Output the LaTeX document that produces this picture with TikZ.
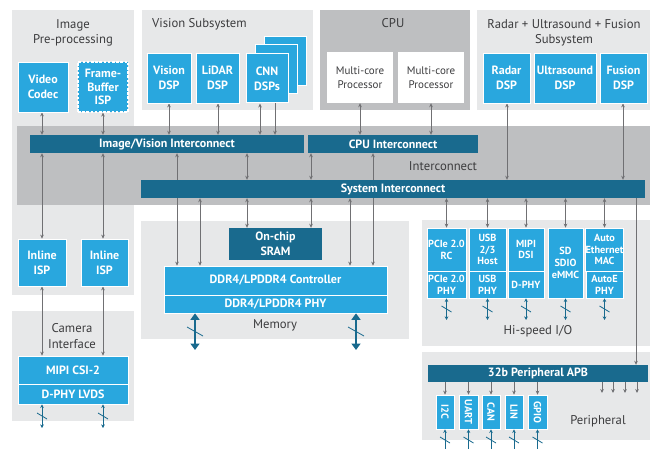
\documentclass[tikz,border=0pt]{standalone}
\usepackage{fontspec}
\setmainfont{PT Sans}
\usetikzlibrary{arrows.meta}
\definecolor{cy}{RGB}{41,167,222}
\definecolor{dk}{RGB}{25,106,142}
\definecolor{lp}{RGB}{231,232,233}
\definecolor{gp}{RGB}{190,191,193}
\definecolor{ar}{RGB}{112,112,115}
\definecolor{tx}{RGB}{60,60,62}
\newcommand\bxf{\fontsize{12}{15}\selectfont\bfseries}
\newcommand\smf{\fontsize{10.3}{11.8}\selectfont\bfseries}
\newcommand\ttf{\fontsize{12.7}{15.5}\selectfont}
\newcommand\barf{\fontsize{12}{13}\selectfont\bfseries}
\newcommand\mcf{\fontsize{11}{14.5}\selectfont}
% box by corners: [extra] style name x1 y1 x2 y2 text
\newcommand\bx[8][]{\node[#2,minimum width={(#5-#3)*1pt},minimum height={(#6-#4)*1pt},#1] (#3) at ({(#4+#6)/2},{(#5+#7)/2}) {#8};}
\newcommand\rbox[7][]{\node[#2,minimum width={(#5-#3)*1pt},minimum height={(#6-#4)*1pt},#1] (#7) at ({(#3+#5)/2},{(#4+#6)/2})}
\pgfdeclarelayer{bg}
\pgfdeclarelayer{mid}
\pgfsetlayers{bg,mid,main}
\tikzset{
  panel/.style={fill=lp, draw=none, inner sep=0pt},
  gpanel/.style={fill=gp, draw=none, inner sep=0pt},
  cbox/.style={fill=cy, draw=white, line width=0.7pt, inner sep=0pt, text=white, font=\bxf, align=center},
  sbox/.style={cbox, font=\smf},
  dbar/.style={fill=dk, draw=none, inner sep=0pt, text=white, font=\barf, align=center},
  wbox/.style={fill=white, draw=none, inner sep=0pt, text=tx, font=\mcf, align=center},
  ttl/.style={text=tx, font=\ttf, align=center, inner sep=0pt},
  tip/.tip={Stealth[length=4pt,width=3.6pt]},
  bi/.style={draw=ar, line width=0.75pt, tip-tip},
  uni/.style={draw=ar, line width=0.75pt, -tip},
  ext/.style={draw=dk, line width=0.9pt, {Stealth[length=3.6pt,width=3.6pt]}-{Stealth[length=3.6pt,width=3.6pt]}},
  extu/.style={draw=dk, line width=0.9pt, {Stealth[length=3.6pt,width=3.6pt]}-},
  extb/.style={draw=dk, line width=2.6pt, {Triangle[length=6.5pt,width=9pt]}-{Triangle[length=6.5pt,width=9pt]}},
  slash/.style={draw=dk, line width=0.8pt},
}
\begin{document}
\begin{tikzpicture}[x=1pt,y=-1pt]
\useasboundingbox (0,0) rectangle (652,449);
% ---------- panels ----------
\begin{pgfonlayer}{bg}
\rbox{panel}{12}{10}{134}{295}{pimg} {};
\rbox{panel}{142}{10}{313}{110}{pvis} {};
\rbox{gpanel}{320}{10}{470}{110}{pcpu} {};
\rbox{panel}{477}{10}{650}{110}{prad} {};
\rbox{panel}{12}{311}{134}{421}{pcam} {};
\rbox{panel}{141}{221}{409}{339}{pmem} {};
\rbox{panel}{422}{220}{650}{346}{phs} {};
\rbox{panel}{422}{352}{650}{440}{pper} {};
\rbox{gpanel}{17}{126}{650}{205}{band} {};
\node[ttl] (timg) at (73,33) {Image\\Pre-processing};
\node[ttl, anchor=west] (tvis) at (152,24.5) {Vision Subsystem};
\node[ttl] (tcpu) at (393,23) {CPU};
\node[ttl] (trad) at (564,33) {Radar + Ultrasound + Fusion\\Subsystem};
\node[ttl] (tint) at (443,166.5) {Interconnect};
\node[ttl] (tmem) at (275,325.5) {Memory};
\node[ttl] (tcam) at (72,336) {Camera\\Interface};
\node[ttl] (ths) at (538,331.5) {Hi-speed I/O};
\node[ttl] (tper) at (598,421) {Peripheral};
\end{pgfonlayer}
% ---------- boxes ----------
\rbox{cbox}{18}{62}{68}{112}{vcodec} {Video\\Codec};
\rbox[dashed, dash pattern=on 2.6pt off 1.6pt, line width=1.2pt]{cbox}{78}{62}{128}{112}{fbisp} {Frame-\\[-1.5pt]Buffer\\[-1.5pt]ISP};
\rbox{cbox}{147}{53}{191}{103}{visdsp} {Vision\\DSP};
\rbox{cbox}{196}{53}{239}{103}{lidar} {LiDAR\\DSP};
\rbox[line width=1pt]{cbox}{264}{37}{306}{86}{cnnc} {};
\rbox[line width=1pt]{cbox}{255}{45}{297}{94}{cnnb} {};
\rbox[line width=1pt]{cbox}{246}{54}{288}{103}{cnn} {CNN\\DSPs};
\rbox{wbox}{327}{52}{393}{103}{mc1} {Multi-core\\Processor};
\rbox{wbox}{398}{52}{464}{103}{mc2} {Multi-core\\Processor};
\rbox{cbox}{483}{53}{530}{103}{radar} {Radar\\DSP};
\rbox{cbox}{534}{53}{596}{103}{ultra} {Ultrasound\\DSP};
\rbox{cbox}{600}{53}{647}{103}{fusion} {Fusion\\DSP};
\rbox{dbar}{30}{135}{304}{153}{ivbar} {Image/Vision Interconnect};
\rbox{dbar}{308}{135}{478}{153}{cpubar} {CPU Interconnect};
\rbox{dbar}{141}{180}{645}{198}{sysbar} {System Interconnect};
\rbox{cbox}{18}{239}{66}{286}{isp1} {Inline\\ISP};
\rbox{cbox}{81}{239}{128}{286}{isp2} {Inline\\ISP};
\rbox{cbox}{18}{356}{128}{384}{csi} {MIPI CSI-2};
\rbox{cbox}{18}{384}{128}{404}{lvds} {D-PHY LVDS};
\rbox[font=\bxf]{dbar}{229}{228}{322}{260}{sram} {On-chip\\SRAM};
\rbox{cbox}{164}{266}{387}{295}{ddrc} {DDR4/LPDDR4 Controller};
\rbox{cbox}{164}{295}{387}{313}{ddrp} {DDR4/LPDDR4 PHY};
\rbox{sbox}{427}{228}{466}{271}{pcie} {PCIe 2.0\\RC};
\rbox{sbox}{427}{271}{466}{298}{pciep} {PCIe 2.0\\PHY};
\rbox{sbox}{469}{228}{506}{271}{usb} {USB\\2/3\\Host};
\rbox{sbox}{469}{271}{506}{298}{usbp} {USB\\PHY};
\rbox{sbox}{508}{228}{544}{271}{mipi} {MIPI\\DSI};
\rbox{sbox}{508}{271}{544}{298}{dphy} {D-PHY};
\rbox{sbox}{548}{228}{583}{298}{sd} {SD\\SDIO\\eMMC};
\rbox{sbox}{586}{228}{623}{271}{eth} {Auto\\Ethernet\\MAC};
\rbox{sbox}{586}{271}{623}{298}{ethp} {AutoE\\PHY};
\rbox{dbar}{428}{365}{648}{382}{apb} {32b Peripheral APB};
\rbox{sbox}{436}{395}{454}{429}{i2c} {\rotatebox{-90}{I2C}};
\rbox{sbox}{459}{395}{478}{429}{uart} {\rotatebox{-90}{UART}};
\rbox{sbox}{482}{395}{500}{429}{can} {\rotatebox{-90}{CAN}};
\rbox{sbox}{505}{395}{523}{429}{lin} {\rotatebox{-90}{LIN}};
\rbox{sbox}{528}{395}{547}{429}{gpio} {\rotatebox{-90}{GPIO}};
% ---------- columns ----------
\foreach \x in {42,103,169,218,247,260,275,311,360,373,431,507,623,177,200,350,636,602,613,625,637,195,356}
  {\coordinate (x\x) at (\x,0);}
\coordinate (y393) at (0,393);
\coordinate (y428) at (0,428);
\coordinate (y350) at (0,350);
\coordinate (y320) at (0,320);
\coordinate (y449) at (0,449);
% ---------- gray connectors ----------
\begin{pgfonlayer}{mid}
\draw[bi] (x42 |- vcodec.south) -- (x42 |- ivbar.north);
\draw[bi] (x103 |- fbisp.south) -- (x103 |- ivbar.north);
\draw[bi] (x169 |- visdsp.south) -- (x169 |- ivbar.north);
\draw[bi] (x218 |- lidar.south) -- (x218 |- ivbar.north);
\draw[bi] (x260 |- cnn.south) -- (x260 |- ivbar.north);
\draw[uni] (x275 |- cnn.south) -- (x275 |- ivbar.north);
\draw[bi] (x360 |- mc1.south) -- (x360 |- cpubar.north);
\draw[bi] (x431 |- mc2.south) -- (x431 |- cpubar.north);
\draw[bi] (x507 |- radar.south) -- (x507 |- sysbar.north);
\draw[bi] (x623 |- fusion.south) -- (x623 |- sysbar.north);
\draw[bi] (x42 |- ivbar.south) -- (x42 |- isp1.north);
\draw[bi] (x103 |- ivbar.south) -- (x103 |- isp2.north);
\draw[bi] (x42 |- isp1.south) -- (x42 |- csi.north);
\draw[bi] (x103 |- isp2.south) -- (x103 |- csi.north);
\draw[bi] (x247 |- ivbar.south) -- (x247 |- sysbar.north);
\draw[bi] (x311 |- cpubar.south) -- (x311 |- sysbar.north);
\draw[bi] (x177 |- ivbar.south) -- (x177 |- ddrc.north);
\draw[bi] (x200 |- sysbar.south) -- (x200 |- ddrc.north);
\draw[bi] (x247 |- sysbar.south) -- (x247 |- sram.north);
\draw[bi] (x311 |- sysbar.south) -- (x311 |- sram.north);
\draw[bi] (x350 |- sysbar.south) -- (x350 |- ddrc.north);
\draw[bi] (x373 |- cpubar.south) -- (x373 |- ddrc.north);
\foreach \n in {pcie,usb,mipi,sd,eth}
  \draw[bi] (\n.north |- sysbar.south) -- (\n.north);
\draw[uni] (x636 |- sysbar.south) -- (x636 |- apb.north);
\foreach \n in {i2c,uart,can,lin,gpio}
  \draw[uni] (\n.north |- apb.south) -- (\n.north);
\foreach \x in {602,613,625,637}
  \draw[uni] (x\x |- apb.south) -- (x\x |- y393);
\end{pgfonlayer}
% ---------- external connectors ----------
\foreach \x in {42,103}{
  \draw[ext] (x\x |- lvds.south) -- (x\x |- y428);
  \draw[slash] (\x-5,413) -- (\x+5,419);
}
\foreach \x in {195,356}{
  \draw[extb] (x\x |- ddrp.south) -- (x\x |- y350);
  \draw[slash] (\x-8,327) -- (\x+8,336);
}
\foreach \n in {pciep,usbp,dphy,sd,ethp}{
  \draw[ext] (\n.south) -- (\n.south |- y320);
  \draw[slash] ([xshift=-5pt,yshift=3pt]\n.south |- 0,309) -- ([xshift=5pt,yshift=-3pt]\n.south |- 0,309);
}
\foreach \n in {i2c,uart,can,lin,gpio}{
  \draw[extu] (\n.south) -- (\n.south |- y449);
  \draw[slash] ([xshift=-5pt,yshift=3pt]\n.south |- 0,440) -- ([xshift=5pt,yshift=-3pt]\n.south |- 0,440);
}
\end{tikzpicture}
\end{document}
